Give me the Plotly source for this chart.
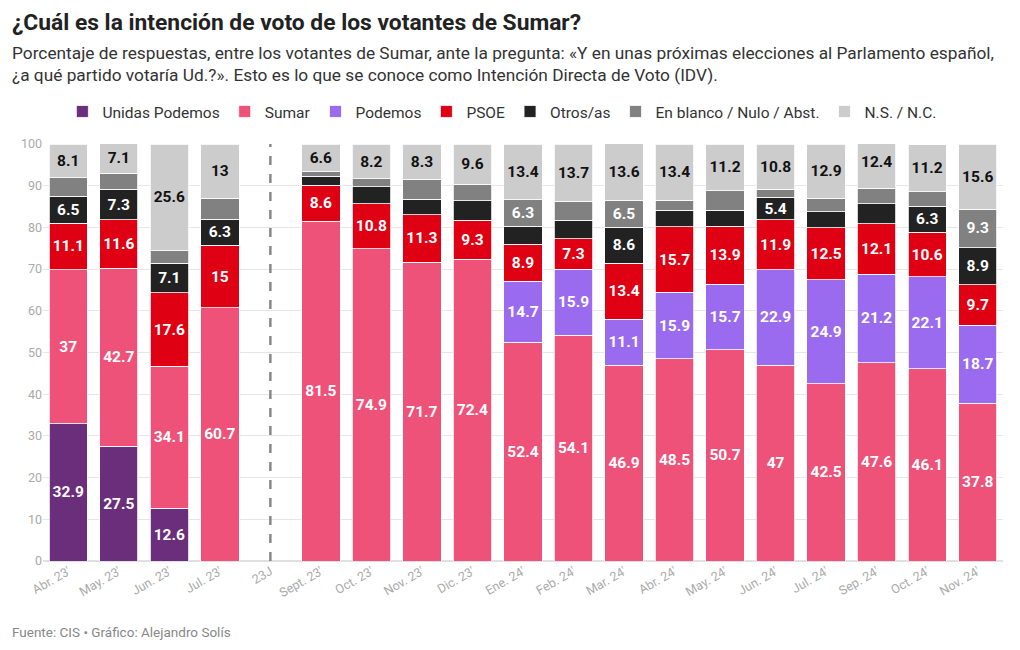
import plotly.graph_objects as go

categories = ["Abr. 23'", "May. 23'", "Jun. 23'", "Jul. 23'", "23J", "Sept. 23'", "Oct. 23'",
              "Nov. 23'", "Dic. 23'", "Ene. 24'", "Feb. 24'", "Mar. 24'", "Abr. 24'", "May. 24'",
              "Jun. 24'", "Jul. 24'", "Sep. 24'", "Oct. 24'", "Nov. 24'"]

unidas_podemos = [32.9, 27.5, 12.6, None, None, None, None, None, None, None, None, None, None, None, None, None, None, None, None]
sumar = [37, 42.7, 34.1, 60.7, None, 81.5, 74.9, 71.7, 72.4, 52.4, 54.1, 46.9, 48.5, 50.7, 47, 42.5, 47.6, 46.1, 37.8]
podemos = [None, None, None, None, None, None, None, None, None, 14.7, 15.9, 11.1, 15.9, 15.7, 22.9, 24.9, 21.2, 22.1, 18.7]
psoe = [11.1, 11.6, 17.6, 15, None, 8.6, 10.8, 11.3, 9.3, 8.9, 7.3, 13.4, 15.7, 13.9, 11.9, 12.5, 12.1, 10.6, 9.7]
otros = [6.5, 7.3, 7.1, 6.3, None, 2.2, 4.0, 3.7, 4.7, 4.3, 4.4, 8.6, 4.0, 3.8, 5.4, 3.8, 4.8, 6.3, 8.9]
blanco = [4.4, 3.9, 3.0, 5.0, None, 1.0, 2.0, 4.9, 3.9, 6.3, 4.6, 6.5, 2.4, 4.7, 2.0, 3.3, 3.7, 3.5, 9.3]
ns_nc = [8.1, 7.1, 25.6, 13, None, 6.6, 8.2, 8.3, 9.6, 13.4, 13.7, 13.6, 13.4, 11.2, 10.8, 12.9, 12.4, 11.2, 15.6]

series = [
    ("Unidas Podemos", unidas_podemos, "#6a2e7a", "white"),
    ("Sumar", sumar, "#ee5279", "white"),
    ("Podemos", podemos, "#9a6bef", "white"),
    ("PSOE", psoe, "#df0013", "white"),
    ("Otros/as", otros, "#222222", "white"),
    ("En blanco / Nulo / Abst.", blanco, "#818181", "white"),
    ("N.S. / N.C.", ns_nc, "#cccccc", "#111111"),
]

LABEL_MIN = 5.3

def fmt(v):
    if v is None or v < LABEL_MIN:
        return ""
    return f"{v:g}"

font_main = "Roboto, sans-serif"

fig = go.Figure()
for name, vals, color, tcolor in series:
    fig.add_trace(go.Bar(
        name=name, x=categories, y=vals,
        marker=dict(color=color, line=dict(color="white", width=0.8)),
        text=[fmt(v) for v in vals],
        textposition="inside", insidetextanchor="middle", textangle=0,
        constraintext="none",
        insidetextfont=dict(family=font_main, size=15.5, color=tcolor, weight="bold"),
        hoverinfo="skip",
    ))

fig.add_shape(type="line", xref="x", yref="y", x0="23J", x1="23J", y0=0, y1=100,
              line=dict(color="#888888", width=2.5, dash="dash"))

fig.update_layout(
    barmode="stack", bargap=0.24,
    width=1020, height=650,
    margin=dict(l=43, r=17, t=144, b=89),
    paper_bgcolor="white", plot_bgcolor="white",
    font=dict(family=font_main, color="#333333"),
    uniformtext=dict(minsize=15, mode="show"),
    showlegend=True,
    legend=dict(orientation="h", x=0.478, xanchor="center", y=1.077, yanchor="middle",
                font=dict(size=15.5, color="#333333", family=font_main), traceorder="normal",
                itemwidth=30),
    xaxis=dict(type="category", tickangle=-30, tickfont=dict(size=12.5, color="#aaaaaa", family=font_main),
               showgrid=False, ticks="", showline=False),
    yaxis=dict(range=[0, 100], dtick=10, tickfont=dict(size=12.5, color="#aaaaaa", family=font_main),
               gridcolor="#e6e6e6", zeroline=True, zerolinecolor="#e0e0e0", ticks="",
               fixedrange=True),
    annotations=[
        dict(text="<b>¿Cuál es la intención de voto de los votantes de Sumar?</b>",
             xref="paper", yref="paper", x=-0.034, y=1.0, xanchor="left", yanchor="middle",
             yshift=122, showarrow=False, font=dict(size=22.8, color="#222222", family=font_main)),
        dict(text="Porcentaje de respuestas, entre los votantes de Sumar, ante la pregunta: «Y en unas próximas elecciones al Parlamento español,<br>¿a qué partido votaría Ud.?». Esto es lo que se conoce como Intención Directa de Voto (IDV).",
             xref="paper", yref="paper", x=-0.034, y=1.0, xanchor="left", yanchor="middle", align="left",
             yshift=80, showarrow=False, font=dict(size=17.3, color="#333333", family=font_main)),
        dict(text="Fuente: CIS • Gráfico: Alejandro Solís",
             xref="paper", yref="paper", x=-0.034, y=0, xanchor="left", yanchor="middle",
             yshift=-71, showarrow=False, font=dict(size=13.5, color="#888888", family=font_main)),
    ],
)

fig.write_html("out.html")
